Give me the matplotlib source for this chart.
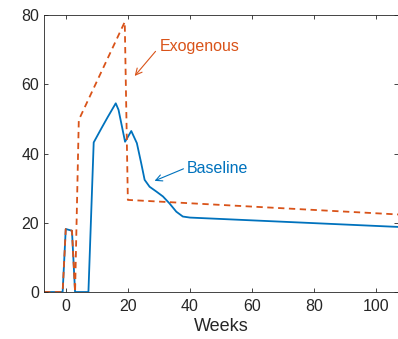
import numpy as np
import matplotlib
matplotlib.use('Agg')
import matplotlib.pyplot as plt

plt.rcParams['font.family'] = ['Liberation Sans', 'DejaVu Sans']

# baseline scenario (weeks, value)
base_weeks = [-7, -1, 0, 2, 3, 7.3, 9, 11.5, 13.5, 16.1, 17, 19.1, 21.1, 22.9, 24.3,
              25.4, 27, 29.2, 31.3, 33.4, 35.6, 37.7, 40, 107]
base_vals = [0, 0, 18.2, 17.7, 0, 0, 43.2, 47.3, 50.5, 54.5, 52.6, 43.4, 46.5, 43, 37.2,
             32.4, 30.4, 29, 27.6, 25.6, 23.2, 21.8, 21.5, 18.8]

# exogenous scenario
exo_weeks = [-7, -1, 0, 2, 3, 4.2, 19, 20, 107]
exo_vals = [0, 0, 18.2, 17.7, 0, 49.7, 78, 26.6, 22.4]

blue = '#0072BD'
orange = '#D95319'
dark = '#262626'

fig = plt.figure(figsize=(3.98, 3.39), dpi=100)
ax = fig.add_axes([0.1106, 0.1386, 0.8894, 0.8171])

ax.plot(base_weeks, base_vals, color=blue, lw=1.3)
ax.plot(exo_weeks, exo_vals, color=orange, lw=1.3, ls=(0, (3.5, 2.5)))

ax.set_xlim(-7, 107)
ax.set_ylim(0, 80)
ax.set_xticks([0, 20, 40, 60, 80, 100])
ax.set_yticks([0, 20, 40, 60, 80])
ax.tick_params(direction='in', length=3, width=0.6, colors=dark, labelsize=11.5,
               top=True, right=True)
ax.tick_params(axis='x', pad=5)
for sp in ax.spines.values():
    sp.set_color(dark)
    sp.set_linewidth(0.6)
ax.set_xlabel('Weeks', fontsize=13, color=dark, labelpad=3)

ax.annotate('Exogenous', xy=(22.2, 62.4), xytext=(30.2, 70.8), color=orange,
            fontsize=11.5, va='center', ha='left',
            arrowprops=dict(arrowstyle='->', color=orange, lw=0.8,
                            shrinkA=0, shrinkB=0, relpos=(-0.05, 0.2)))
ax.annotate('Baseline', xy=(28.6, 32.1), xytext=(38.9, 35.8), color=blue,
            fontsize=11.5, va='center', ha='left',
            arrowprops=dict(arrowstyle='->', color=blue, lw=0.8,
                            shrinkA=0, shrinkB=0, relpos=(-0.05, 0.45)))

fig.savefig('out.png', dpi=100)
